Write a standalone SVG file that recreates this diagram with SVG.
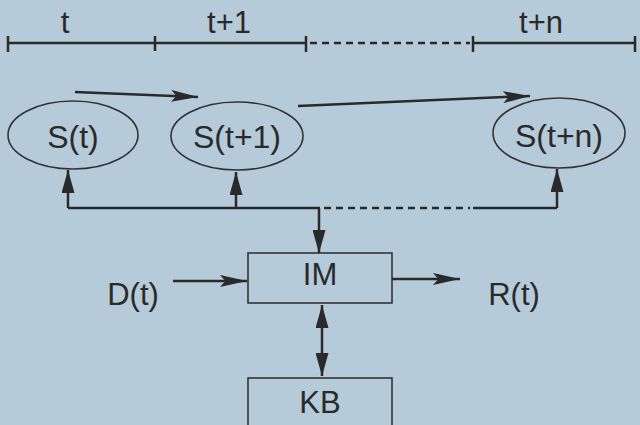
<svg xmlns="http://www.w3.org/2000/svg" width="640" height="425" viewBox="0 0 640 425">
<defs>
<marker id="ah" viewBox="0 0 10 10" refX="10" refY="5" markerWidth="23" markerHeight="13" markerUnits="userSpaceOnUse" orient="auto-start-reverse" preserveAspectRatio="none"><path d="M0,0 L10,5 L0,10 z" fill="#2a2a2a"/></marker>
<marker id="ahl" viewBox="0 0 10 10" refX="10" refY="5" markerWidth="27" markerHeight="12" markerUnits="userSpaceOnUse" orient="auto-start-reverse" preserveAspectRatio="none"><path d="M0,0 L10,5 L0,10 L2,5 z" fill="#2a2a2a"/></marker>
<style>
.ln{stroke:#2a2a2a;stroke-width:2.5;fill:none}
.ds{stroke:#2a2a2a;stroke-width:2.5;fill:none;stroke-dasharray:7,5}
.nd{stroke:#333;stroke-width:1.6;fill:none}
.tx{font-family:"Liberation Sans",Arial,sans-serif;font-size:31px;fill:#2a2a2a;text-anchor:middle}
.lg{font-size:32px}
</style>
</defs>
<rect width="640" height="425" fill="#b6cbd9"/>
<g id="timeline">
<path class="ln" d="M8,43 H306 M473,43 H635 M8,36 V52 M155,36 V51 M306,36 V52 M473,36 V52 M635,36 V52"/>
<path class="ds" d="M310,43 H470"/>
<text class="tx" x="65" y="33">t</text>
<text class="tx" x="229" y="33">t+1</text>
<text class="tx" x="541" y="33">t+n</text>
</g>
<g id="s_t"><ellipse class="nd" cx="73" cy="135" rx="65" ry="34"/><text class="tx lg" x="73" y="148">S(t)</text></g>
<g id="s_t1"><ellipse class="nd" cx="237" cy="136" rx="66" ry="34"/><text class="tx lg" x="237" y="148">S(t+1)</text></g>
<g id="s_tn"><ellipse class="nd" cx="559" cy="133" rx="66" ry="35"/><text class="tx lg" x="559" y="147">S(t+n)</text></g>
<g id="im"><rect class="nd" x="248" y="253" width="144" height="50"/><text class="tx" x="320" y="285">IM</text></g>
<g id="kb"><rect class="nd" x="248" y="378" width="144" height="60"/><text class="tx" x="320" y="413">KB</text></g>
<g id="d_t"><text class="tx" x="133" y="305">D(t)</text></g>
<g id="r_t"><text class="tx" x="514" y="305">R(t)</text></g>
<g id="connectors">
<path class="ln" d="M75,92 L198,97" marker-end="url(#ahl)"/>
<path class="ln" d="M298,106 L530,96" marker-end="url(#ahl)"/>
<path class="ln" d="M68,208 H320 M473,208 H557"/>
<path class="ds" d="M324,208 H470"/>
<path class="ln" d="M68,208 V170" marker-end="url(#ah)"/>
<path class="ln" d="M236,208 V172" marker-end="url(#ah)"/>
<path class="ln" d="M557,208 V169" marker-end="url(#ah)"/>
<path class="ln" d="M319,208 V253" marker-end="url(#ah)"/>
<path class="ln" d="M173,281 H247" marker-end="url(#ahl)"/>
<path class="ln" d="M392,279 H460" marker-end="url(#ahl)"/>
<path class="ln" d="M322,305 V376" marker-start="url(#ah)" marker-end="url(#ah)"/>
</g>
</svg>
